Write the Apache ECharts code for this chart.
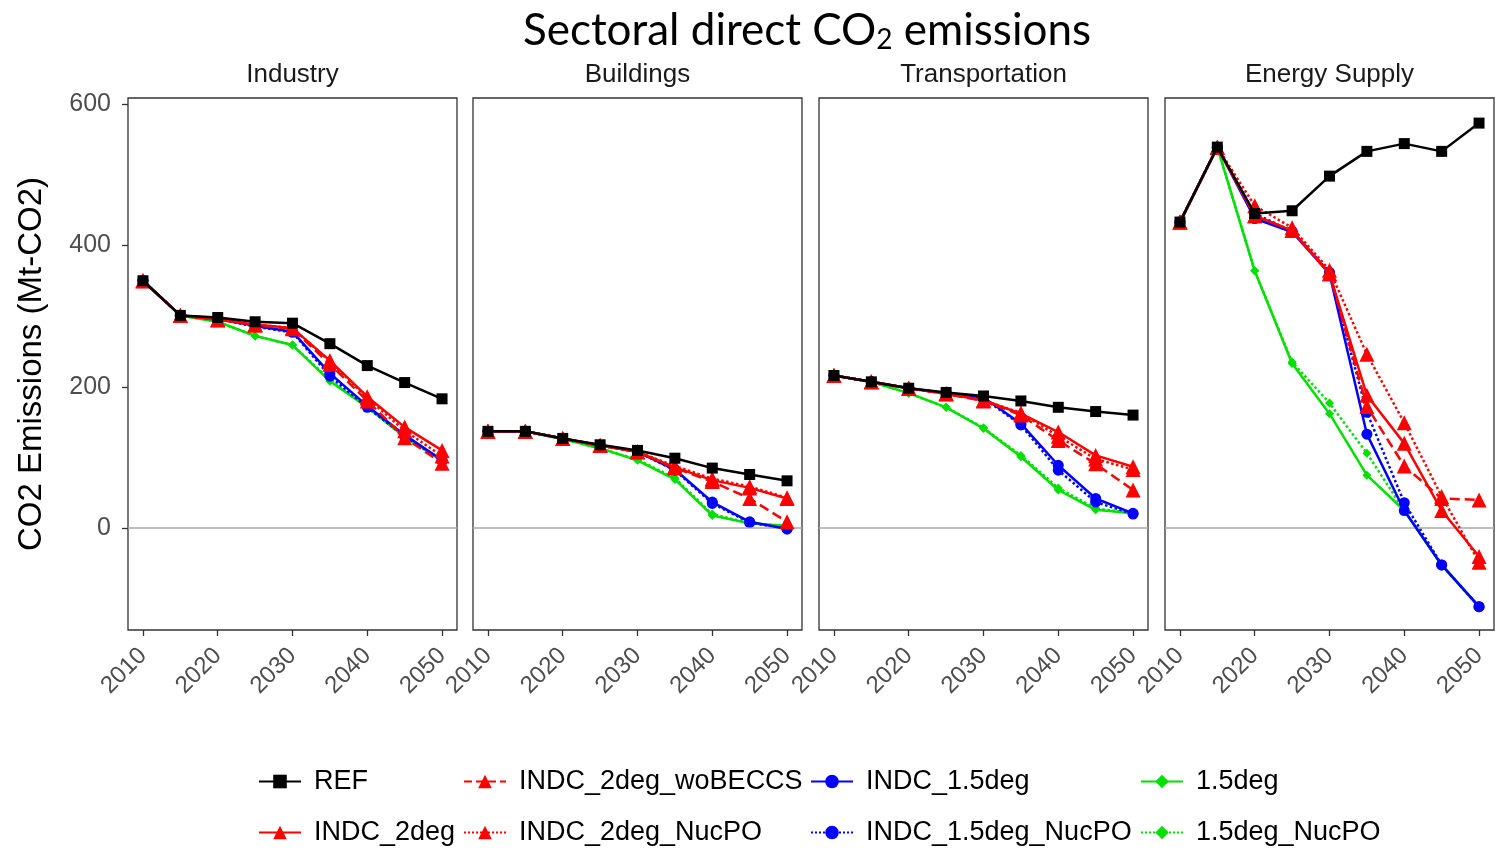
<!DOCTYPE html>
<html>
<head>
<meta charset="utf-8">
<script src="https://cdn.jsdelivr.net/npm/echarts@6/dist/echarts.min.js"></script>
<style>
  html, body { margin: 0; padding: 0; background: #fff; }
  #chart { width: 1495px; height: 849px; }
</style>
</head>
<body>
<div id="chart"></div>
<script>
const years = [2010, 2015, 2020, 2025, 2030, 2035, 2040, 2045, 2050]
const tickYears = [2010, 2020, 2030, 2040, 2050]
const tickValues = [0, 200, 400, 600]
const sectors = ['Industry', 'Buildings', 'Transportation', 'Energy Supply']

// one row per sector: Industry, Buildings, Transportation, Energy Supply
const REF = [
  [350, 301, 298, 292, 290, 261, 230, 206, 183],
  [137, 137, 127, 118, 110, 99, 85, 76, 67],
  [216, 207, 198, 192, 187, 180, 171, 165, 160],
  [433, 539, 445, 449, 498, 533, 544, 533, 573]
]
const INDC_2deg = [
  [350, 301, 295, 288, 283, 237, 186, 143, 110],
  [137, 137, 127, 117, 108, 86, 68, 57, 42],
  [216, 207, 198, 190, 181, 162, 136, 103, 87],
  [433, 539, 442, 421, 360, 188, 120, 25, -40]
]
const INDC_2deg_woBECCS = [
  [350, 301, 295, 287, 282, 232, 180, 128, 92],
  [137, 137, 127, 117, 108, 85, 66, 42, 9],
  [216, 207, 198, 190, 180, 160, 124, 91, 54],
  [433, 539, 442, 421, 360, 172, 88, 42, 40]
]
const INDC_2deg_NucPO = [
  [350, 301, 295, 288, 283, 236, 184, 138, 102],
  [137, 137, 127, 117, 108, 88, 70, 59, 43],
  [216, 207, 198, 190, 181, 163, 130, 98, 83],
  [433, 539, 456, 425, 365, 246, 149, 45, -48]
]
const INDC_15deg = [
  [350, 301, 297, 286, 278, 219, 173, 132, 96],
  [137, 137, 127, 117, 108, 83, 37, 9, -1],
  [216, 207, 198, 191, 185, 148, 89, 42, 21],
  [433, 539, 438, 419, 360, 133, 25, -52, -111]
]
const INDC_15deg_NucPO = [
  [350, 301, 296, 285, 277, 215, 171, 130, 95],
  [137, 137, 127, 117, 108, 82, 35, 8, -1],
  [216, 207, 198, 191, 184, 146, 82, 37, 20],
  [433, 539, 445, 420, 362, 164, 36, -52, -111]
]
const deg15 = [
  [350, 301, 292, 272, 259, 208, 171, 129, 97],
  [137, 137, 126, 113, 96, 69, 18, 7, 3],
  [216, 207, 191, 171, 141, 101, 54, 26, 21],
  [433, 539, 364, 233, 162, 75, 25, -52, -111]
]
const deg15_NucPO = [
  [350, 301, 292, 272, 259, 210, 172, 130, 97],
  [137, 137, 126, 113, 97, 71, 20, 7, 3],
  [216, 207, 191, 171, 142, 103, 57, 28, 21],
  [433, 539, 364, 235, 177, 106, 25, -52, -111]
]

const scenarios = [
  { name: '1.5deg_NucPO', values: deg15_NucPO, color: '#00e000', line: 'dotted', symbol: 'diamond', size: 9 },
  { name: '1.5deg', values: deg15, color: '#00e000', line: 'solid', symbol: 'diamond', size: 9 },
  { name: 'INDC_1.5deg_NucPO', values: INDC_15deg_NucPO, color: '#0000ff', line: 'dotted', symbol: 'circle', size: 11 },
  { name: 'INDC_1.5deg', values: INDC_15deg, color: '#0000ff', line: 'solid', symbol: 'circle', size: 11 },
  { name: 'INDC_2deg_NucPO', values: INDC_2deg_NucPO, color: '#ff0000', line: 'dotted', symbol: 'triangle', size: 15 },
  { name: 'INDC_2deg_woBECCS', values: INDC_2deg_woBECCS, color: '#ff0000', line: 'dashed', symbol: 'triangle', size: 15 },
  { name: 'INDC_2deg', values: INDC_2deg, color: '#ff0000', line: 'solid', symbol: 'triangle', size: 15 },
  { name: 'REF', values: REF, color: '#000000', line: 'solid', symbol: 'rect', size: 11 }
]

// legend layout: [name, left, top]
const legendSlots = [
  ['REF', 258, 768], ['INDC_2deg', 258, 819],
  ['INDC_2deg_woBECCS', 463, 768], ['INDC_2deg_NucPO', 463, 819],
  ['INDC_1.5deg', 810, 768], ['INDC_1.5deg_NucPO', 810, 819],
  ['1.5deg', 1140, 768], ['1.5deg_NucPO', 1140, 819]
]

const font = 'Liberation Sans, Arial, sans-serif'
const gridLefts = [128, 473, 819, 1165]
const panelW = 329

const chart = echarts.init(document.getElementById('chart'))

const titles = [{
  text: 'Sectoral direct CO{sub|2} emissions',
  left: 807,
  top: 8,
  padding: 0,
  textAlign: 'center',
  textStyle: {
    fontFamily: 'Lato, Open Sans, sans-serif',
    fontSize: 44,
    fontWeight: 'normal',
    color: '#000',
    rich: {
      sub: { fontSize: 28, verticalAlign: 'bottom', padding: [18, 0, 0, 0], fontFamily: 'Lato, Open Sans, sans-serif' }
    }
  }
}]
sectors.forEach(function(s, i) {
  titles.push({
    text: s,
    left: gridLefts[i] + panelW / 2,
    top: 62,
    padding: 0,
    textAlign: 'center',
    textStyle: { fontFamily: font, fontSize: 26, fontWeight: 'normal', color: '#1a1a1a' }
  })
})

const grids = []
const xAxes = []
const yAxes = []
const series = []

sectors.forEach(function(s, i) {
  grids.push({
    left: gridLefts[i], top: 98, width: panelW, height: 532,
    show: true, borderColor: '#333', borderWidth: 1.3, backgroundColor: 'transparent'
  })
  xAxes.push({
    type: 'value', gridIndex: i, min: 2008, max: 2052,
    splitLine: { show: false },
    axisLine: { show: false, onZero: false },
    axisTick: { show: true, customValues: tickYears, length: 6, lineStyle: { color: '#333', width: 1.3 } },
    axisLabel: {
      customValues: tickYears, rotate: 45, margin: 22, fontSize: 24, color: '#4d4d4d', fontFamily: font,
      formatter: function(v) { return String(v) }
    }
  })
  yAxes.push({
    type: 'value', gridIndex: i, min: -144, max: 608.5,
    splitLine: { show: false },
    axisLine: { show: false },
    axisTick: { show: i === 0, customValues: tickValues, length: 6, lineStyle: { color: '#333', width: 1.3 } },
    axisLabel: { show: i === 0, customValues: tickValues, margin: 17, fontSize: 25, color: '#4d4d4d', fontFamily: font },
    name: i === 0 ? 'CO2 Emissions (Mt-CO2)' : '',
    nameLocation: 'middle',
    nameGap: 80,
    nameTextStyle: { fontSize: 33, color: '#000', fontFamily: font }
  })
  scenarios.forEach(function(sc, k) {
    const item = {
      name: sc.name,
      type: 'line',
      xAxisIndex: i,
      yAxisIndex: i,
      data: years.map(function(y, j) { return [y, sc.values[i][j]] }),
      symbol: sc.symbol,
      symbolSize: sc.size,
      color: sc.color,
      lineStyle: { width: 2.5, type: sc.line },
      itemStyle: { color: sc.color },
      emphasis: { disabled: true },
      z: 2 + k
    }
    if (k === 0) {
      item.markLine = {
        silent: true,
        symbol: 'none',
        label: { show: false },
        lineStyle: { color: '#aaaaaa', type: 'solid', width: 1.5 },
        data: [{ yAxis: 0 }]
      }
    }
    series.push(item)
  })
})

const legends = legendSlots.map(function(slot) {
  return {
    data: [slot[0]],
    left: slot[1],
    top: slot[2],
    padding: 0,
    itemWidth: 42,
    itemHeight: 17,
    textStyle: { fontSize: 27, color: '#000', fontFamily: font, padding: [0, 0, 0, 8] }
  }
})

const option = {
  animation: false,
  backgroundColor: '#fff',
  title: titles,
  legend: legends,
  grid: grids,
  xAxis: xAxes,
  yAxis: yAxes,
  series: series
}

chart.setOption(option)
</script>
</body>
</html>
